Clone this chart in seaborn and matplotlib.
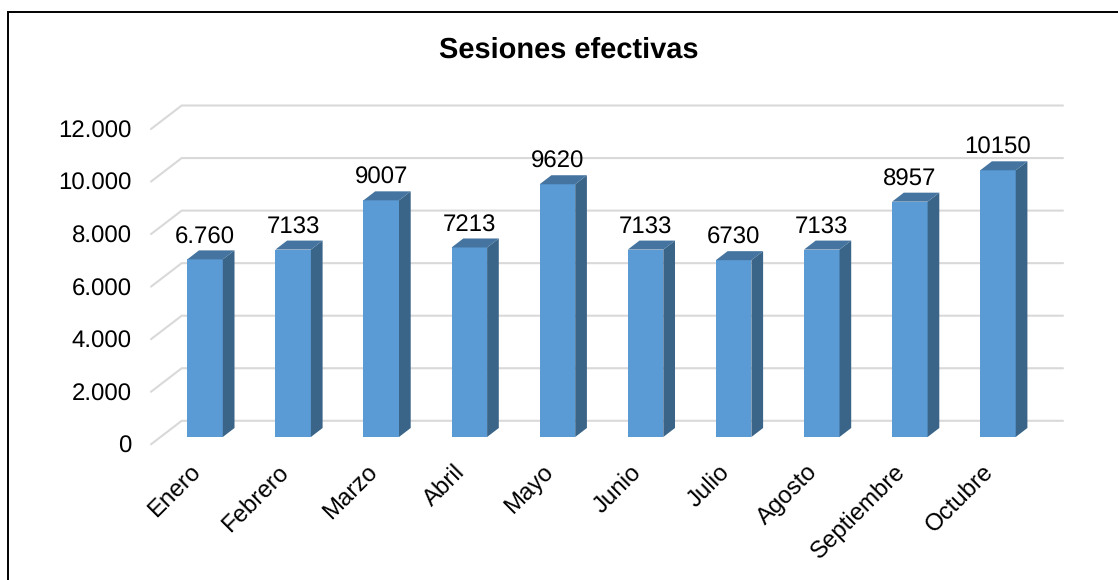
# Sesiones efectivas - fake 3D column chart
import matplotlib
matplotlib.use('Agg')
import matplotlib.pyplot as plt
from matplotlib.lines import Line2D
from matplotlib.patches import Polygon
from matplotlib.transforms import ScaledTranslation
import pandas as pd
import seaborn as sns

meses = ['Enero', 'Febrero', 'Marzo', 'Abril', 'Mayo', 'Junio', 'Julio',
         'Agosto', 'Septiembre', 'Octubre']
sesiones = [6760, 7133, 9007, 7213, 9620, 7133, 6730, 7133, 8957, 10150]
etiquetas = ['6.760', '7133', '9007', '7213', '9620', '7133', '6730', '7133',
             '8957', '10150']
y_ticks = [0, 2000, 4000, 6000, 8000, 10000, 12000]
y_labels = ['0', '2.000', '4.000', '6.000', '8.000', '10.000', '12.000']

COLOR_FRONT = '#5B9BD5'
COLOR_SIDE = '#3A6589'
COLOR_TOP = '#44749F'
COLOR_GRID = '#D9D9D9'

sns.set_theme(style='white')
plt.rcParams['font.family'] = ['Liberation Sans', 'DejaVu Sans']
plt.rcParams['text.hinting'] = 'none'
plt.rcParams['text.hinting_factor'] = 1

W, H = 1118, 580
fig = plt.figure(figsize=(W / 100, H / 100), dpi=100)
# axes box in pixels: floor line of the bars
left, right, base, top = 161.0, 1042.0, 437.0, 121.7
ax = fig.add_axes([left / W, 1 - base / H, (right - left) / W, (base - top) / H])

df = pd.DataFrame({'mes': meses, 'sesiones': sesiones})
sns.barplot(data=df, x='mes', y='sesiones', color=COLOR_FRONT, saturation=1,
            width=0.403, ax=ax, zorder=3, linewidth=0, edgecolor='none')
ax.set_xlim(-0.5, 9.5)
ax.set_ylim(0, 12000)

# pixels to data units
px_x = 1 / ((right - left) / 10)
px_y = 12000 / (base - top)

# walls: gridlines on the back, diagonals on the left side
for v in y_ticks:
    yb = v + 16.2 * px_y
    yf = v - 7.3 * px_y
    xb = -0.5 + (181.7 - left) * px_x
    xf = -0.5 + (151.0 - left) * px_x
    xe = -0.5 + (1063.0 - left) * px_x
    ax.plot([xf, xb, xe], [yf, yb, yb], color=COLOR_GRID, lw=1.5, zorder=1,
            clip_on=False, solid_joinstyle='miter')

# side and top faces of the bars
dx = 11.7 * px_x
dy = 9.0 * px_y
for bar in ax.patches[:len(meses)]:
    x0 = bar.get_x()
    x1 = x0 + bar.get_width()
    h = bar.get_height()
    ax.add_patch(Polygon([(x1, 0), (x1 + dx, dy), (x1 + dx, h + dy), (x1, h)],
                         facecolor=COLOR_SIDE, edgecolor='none', zorder=3, clip_on=False))
    ax.add_patch(Polygon([(x0, h), (x0 + dx, h + dy), (x1 + dx, h + dy), (x1, h)],
                         facecolor=COLOR_TOP, edgecolor='none', zorder=3, clip_on=False))

for i, v in enumerate(sesiones):
    ax.annotate(etiquetas[i], xy=(i, v), xytext=(0, 8), textcoords='offset points',
                ha='center', va='bottom', fontsize=17.6, color='black', zorder=5,
                annotation_clip=False)

ax.set_xlabel('')
ax.set_ylabel('')
ax.set_yticks(y_ticks)
ax.set_yticklabels(y_labels, fontsize=17.3, color='black')
ax.set_xticks(range(len(meses)))
ax.set_xticklabels(meses, fontsize=17.3, color='black', rotation=45, ha='right',
                   rotation_mode='anchor')
ax.tick_params(axis='both', length=0)
ax.tick_params(axis='y', pad=21)
ax.tick_params(axis='x', pad=12)
for lab in ax.get_yticklabels():
    lab.set_transform(lab.get_transform() + ScaledTranslation(0, -7.3 / 100, fig.dpi_scale_trans))
for lab in ax.get_xticklabels():
    lab.set_transform(lab.get_transform() + ScaledTranslation(-16 / 100, -7 / 100, fig.dpi_scale_trans))
sns.despine(ax=ax, left=True, bottom=True)
ax.patch.set_alpha(0)

fig.text(568.5 / W, 1 - 50 / H, 'Sesiones efectivas', ha='center', va='center',
         fontsize=20.9, fontweight='bold', color='black')

# chart frame: only top and left edges fall inside the picture
fig.add_artist(Line2D([8 / W, 8 / W, 1], [0, 1 - 12 / H, 1 - 12 / H], transform=fig.transFigure,
                      color='black', lw=1.4, solid_joinstyle='miter'))

plt.savefig('out.png', dpi=100)
